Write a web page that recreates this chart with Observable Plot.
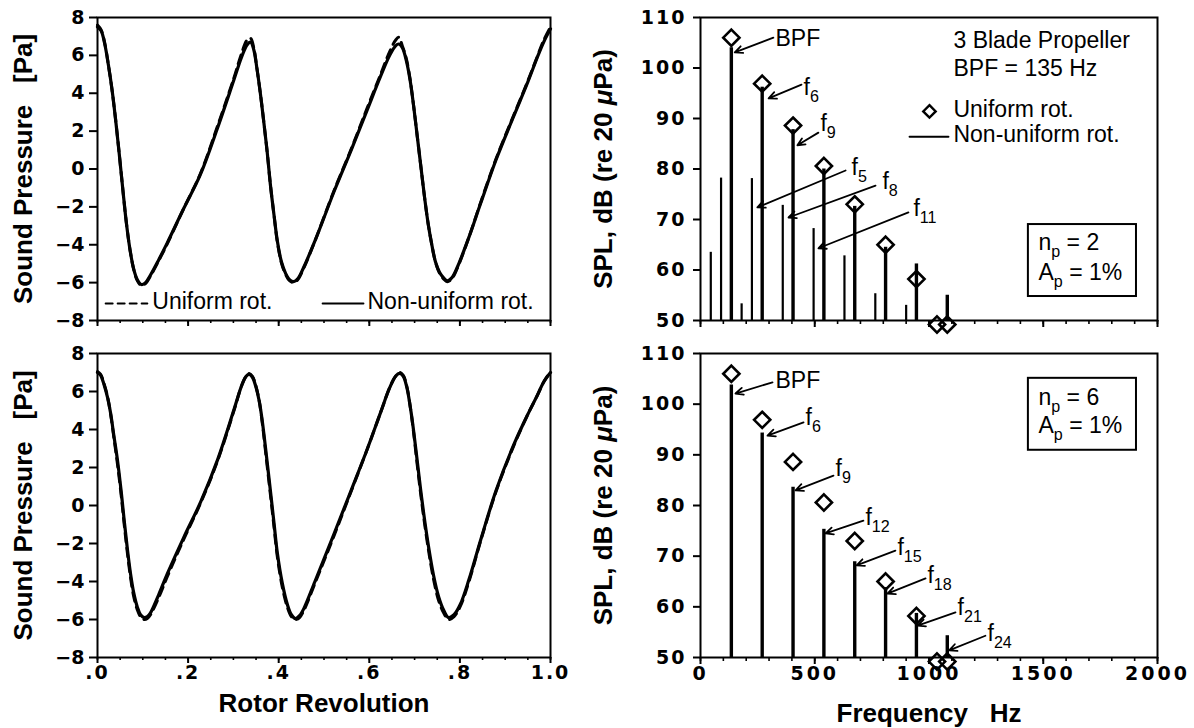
<!DOCTYPE html>
<html><head><meta charset="utf-8">
<script src="https://cdn.jsdelivr.net/npm/d3@7"></script>
<script src="https://cdn.jsdelivr.net/npm/@observablehq/plot@0.6"></script>
<style>
body{margin:0;background:#fff;}
#wrap{position:relative;width:1194px;height:728px;overflow:hidden;background:#fff;}
#wrap svg{position:absolute;overflow:visible;max-width:none;background:transparent;}
#wrap text{white-space:pre;}
#wrap g[aria-label="y-axis tick label"], #wrap g[aria-label="x-axis tick label"]{font-family:"DejaVu Sans",sans-serif;font-weight:bold;font-size:19px;}
#wrap .rotor g[aria-label="x-axis tick label"]{letter-spacing:2px;}
#wrap .freq g[aria-label="x-axis tick label"]{letter-spacing:3px;}
#wrap .spl g[aria-label="y-axis tick label"]{letter-spacing:2px;}
</style></head><body><div id="wrap"></div>
<script>
// ---------- DATA ----------
// Time domain: rotor revolution fraction and sound pressure [Pa]
const revTop = [0, 0.008, 0.016, 0.024, 0.032, 0.040, 0.048, 0.056, 0.064, 0.072, 0.080, 0.088, 0.097, 0.106, 0.117, 0.135, 0.154, 0.19, 0.227, 0.264, 0.301, 0.318, 0.330, 0.338, 0.345, 0.352, 0.36, 0.367, 0.375, 0.382, 0.39, 0.397, 0.406, 0.415, 0.424, 0.433, 0.442, 0.455, 0.48, 0.522, 0.56, 0.595, 0.625, 0.645, 0.658, 0.665, 0.673, 0.682, 0.69, 0.698, 0.706, 0.714, 0.722, 0.73, 0.738, 0.746, 0.755, 0.764, 0.772, 0.782, 0.794, 0.82, 0.846, 0.88, 0.919, 0.95, 0.971, 0.985, 1.0];
const pNonuniformTop = [7.5, 7.3, 6.6, 5.5, 4.2, 2.6, 0.8, -1.1, -2.9, -4.3, -5.3, -5.85, -6.1, -6.0, -5.6, -4.8, -3.9, -2.1, -0.3, 2.1, 4.7, 5.9, 6.55, 6.7, 6.3, 5.3, 3.9, 2.5, 0.8, -0.9, -2.5, -3.8, -4.9, -5.5, -5.85, -5.95, -5.8, -5.2, -3.8, -1.2, 1.0, 3.1, 4.9, 6.0, 6.5, 6.6, 6.4, 5.7, 4.7, 3.3, 1.7, 0.1, -1.5, -2.9, -4.0, -4.9, -5.45, -5.75, -5.9, -5.75, -5.2, -3.6, -1.8, 0.5, 2.8, 4.6, 5.9, 6.7, 7.4];
const pUniformTop = [7.6, 7.35, 6.65, 5.5, 4.2, 2.6, 0.8, -1.1, -2.9, -4.3, -5.3, -5.9, -6.15, -6.05, -5.65, -4.85, -3.95, -2.1, -0.25, 2.2, 4.8, 6.1, 6.8, 6.9, 6.4, 5.3, 3.9, 2.5, 0.8, -0.9, -2.5, -3.85, -4.95, -5.55, -5.9, -6.0, -5.85, -5.25, -3.8, -1.15, 1.05, 3.2, 5.0, 6.2, 6.8, 6.95, 6.5, 5.8, 4.75, 3.3, 1.7, 0.1, -1.5, -2.9, -4.0, -4.9, -5.5, -5.8, -5.95, -5.8, -5.25, -3.6, -1.75, 0.55, 2.85, 4.65, 5.95, 6.8, 7.5];

const revBottom = [0, 0.007, 0.014, 0.022, 0.029, 0.036, 0.044, 0.052, 0.059, 0.066, 0.073, 0.080, 0.088, 0.095, 0.103, 0.110, 0.117, 0.135, 0.154, 0.19, 0.228, 0.265, 0.302, 0.318, 0.328, 0.335, 0.342, 0.349, 0.357, 0.364, 0.373, 0.383, 0.39, 0.397, 0.408, 0.419, 0.428, 0.437, 0.446, 0.456, 0.48, 0.522, 0.56, 0.596, 0.625, 0.645, 0.658, 0.667, 0.675, 0.683, 0.691, 0.698, 0.706, 0.713, 0.72, 0.731, 0.742, 0.753, 0.764, 0.775, 0.787, 0.801, 0.82, 0.846, 0.88, 0.919, 0.95, 0.971, 0.985, 1.0];
const pNonuniformBottom = [7.0, 6.85, 6.4, 5.7, 4.85, 3.7, 2.4, 0.8, -0.8, -2.3, -3.6, -4.6, -5.35, -5.75, -5.9, -5.85, -5.65, -4.7, -3.6, -1.7, 0.2, 2.4, 5.1, 6.3, 6.8, 6.9, 6.75, 6.3, 5.5, 4.4, 2.6, 0.5, -1.0, -2.5, -4.1, -5.2, -5.75, -5.95, -5.8, -5.4, -4.0, -1.5, 0.8, 3.0, 4.9, 6.2, 6.8, 6.95, 6.8, 6.2, 5.1, 3.9, 2.3, 0.9, -0.4, -2.2, -3.7, -4.8, -5.5, -5.9, -5.75, -5.2, -3.9, -1.8, 0.8, 3.2, 4.8, 5.8, 6.5, 7.0];
const pUniformBottom = [7.05, 6.9, 6.45, 5.75, 4.8, 3.6, 2.2, 0.6, -1.0, -2.5, -3.8, -4.8, -5.5, -5.85, -6.0, -5.95, -5.75, -4.85, -3.75, -1.8, 0.15, 2.35, 5.05, 6.3, 6.8, 6.95, 6.8, 6.35, 5.5, 4.3, 2.4, 0.3, -1.2, -2.7, -4.3, -5.35, -5.85, -6.0, -5.9, -5.5, -4.1, -1.6, 0.75, 3.0, 4.9, 6.2, 6.8, 7.0, 6.85, 6.25, 5.1, 3.8, 2.1, 0.7, -0.6, -2.4, -3.9, -5.0, -5.65, -6.0, -5.85, -5.3, -4.0, -1.85, 0.75, 3.15, 4.8, 5.8, 6.5, 7.05];

// Spectra: frequency [Hz] and SPL [dB re 20 µPa]
const uniformHz = [135, 270, 405, 540, 675, 810, 945, 1035, 1080];
const uniformSPL = [106, 96.9, 88.6, 80.6, 73, 65, 58.2, 49.2, 49.2];
const np2Hz = [45, 90, 135, 180, 225, 270, 360, 405, 495, 540, 630, 675, 765, 810, 900, 945, 1080];
const np2SPL = [63.5, 78.2, 104, 53.3, 78.1, 96.2, 72.8, 87.8, 68.2, 80, 62.8, 72.6, 55.3, 64.5, 53, 61.2, 55];
const np6Hz = [135, 270, 405, 540, 675, 810, 945, 1080];
const np6SPL = [103.8, 94.3, 83.6, 75.3, 68.9, 63.8, 58.7, 54.3];

// Tick values and labels
const rotorTicks = [0, 0.2, 0.4, 0.6, 0.8, 1.0];
const rotorTickLabels = [".0", ".2", ".4", ".6", ".8", "1.0"];
const pressureTicks = [-8, -6, -4, -2, 0, 2, 4, 6, 8];
const pressureTickLabels = ["\u22128", "\u22126", "\u22124", "\u22122", "0", "2", "4", "6", "8"];
const freqTicks = [0, 500, 1000, 1500, 2000];
const freqTickLabels = ["0", "500", "1000", "1500", "2000"];
const splTicks = [50, 60, 70, 80, 90, 100, 110];
const splTickLabels = ["50", "60", "70", "80", "90", "100", "110"];

// Annotation labels
const labelsNp2 = ["BPF", "f_{6}", "f_{9}", "f_{5}", "f_{8}", "f_{11}"];
const labelsNp6 = ["BPF", "f_{6}", "f_{9}", "f_{12}", "f_{15}", "f_{18}", "f_{21}", "f_{24}"];

// ---------- LAYOUT (annotation placement in data units) ----------
const annNp2 = {
  textHz: [328, 451, 525, 661, 796, 932], textSPL: [105.8, 96.1, 89.0, 80.3, 77.5, 72.2],
  tailHz: [319, 442, 516, 635, 766, 910], tailSPL: [106.0, 96.7, 87.2, 79.7, 76.7, 71.4],
  headHz: [150, 298, 424, 249, 385, 516], headSPL: [103.1, 94.0, 84.7, 72.4, 70.4, 64.3]
};
const annNp6 = {
  textHz: [328, 460, 591, 722, 862, 993, 1125, 1256], textSPL: [104.7, 97.4, 87.3, 77.6, 71.7, 66.2, 59.9, 54.7],
  tailHz: [315, 451, 582, 713, 853, 985, 1116, 1247], tailSPL: [104.3, 96.4, 85.9, 77.0, 71.1, 65.6, 58.9, 54.3],
  headHz: [153, 293, 416, 547, 683, 818, 950, 1088], headSPL: [102.1, 93.8, 83.0, 74.5, 68.2, 62.6, 56.3, 51.4]
};

// ---------- HELPERS ----------
const svgns = "http://www.w3.org/2000/svg";
function rich(svg) {
  for (const t of svg.querySelectorAll("text")) {
    const s = t.textContent;
    if (!/_\{|\*/.test(s) || t.querySelector("tspan")) continue;
    const re = /_\{([^}]*)\}|\*([^*]*)\*|([^_*]+)/g;
    const parts = []; let m;
    while ((m = re.exec(s))) parts.push(m[1] != null ? {t: m[1], sub: true} : m[2] != null ? {t: m[2], it: true} : {t: m[3]});
    const fs = parseFloat(getComputedStyle(t).fontSize) || 20;
    const shift = Math.round(fs * 0.3);
    t.textContent = "";
    let down = false;
    for (const p of parts) {
      const ts = document.createElementNS(svgns, "tspan");
      ts.textContent = p.t;
      if (p.sub) { ts.setAttribute("font-size", "0.7em"); if (!down) ts.setAttribute("dy", shift); down = true; }
      else if (down) { ts.setAttribute("dy", -shift); down = false; }
      if (p.it) ts.setAttribute("font-style", "italic");
      t.appendChild(ts);
    }
  }
}
const wrap = document.getElementById("wrap");
function place(svg, left, top, classes) {
  svg.style.left = left + "px"; svg.style.top = top + "px";
  classes.forEach(c => svg.classList.add(c));
  wrap.appendChild(svg);
  rich(svg);
}
const baseStyle = {background: "transparent", color: "black", fontFamily: "'Liberation Sans', Arial, sans-serif", fontSize: "23px", overflow: "visible"};
const annFont = {fontFamily: "'Liberation Sans', Arial, sans-serif", fontSize: 23, fontWeight: "normal"};
const titleFont = {fontFamily: "'Liberation Sans', Arial, sans-serif", fontSize: 26, fontWeight: "bold", textAnchor: "middle", lineAnchor: "middle"};
const rows = (xs, ys) => xs.map((x, i) => ({x, y: ys[i]}));
const rotorMinor = d3.range(0, 1.0001, 0.05);
const freqMinor = d3.range(0, 2001, 100);

// ---------- TIME-DOMAIN PANELS ----------
function wavePanel({uni, non, top, height, mt, mb, showX, legend}) {
  const marks = [
    Plot.frame({strokeWidth: 2}),
    Plot.axisY({ticks: pressureTicks, tickSize: 8, tickPadding: 5, strokeWidth: 2, label: null,
      tickFormat: d => pressureTickLabels[pressureTicks.indexOf(d)]}),
    Plot.axisX({ticks: rotorMinor, tickSize: 3, strokeWidth: 1.6, label: null, tickFormat: () => ""}),
    Plot.axisX({ticks: rotorTicks, tickSize: 6, tickPadding: 2, strokeWidth: 2, label: null,
      tickFormat: d => showX ? rotorTickLabels[rotorTicks.indexOf(d)] : ""}),
    Plot.line(uni, {x: "x", y: "y", curve: "catmull-rom", stroke: "black", strokeWidth: 3, strokeDasharray: "9,6"}),
    Plot.line(non, {x: "x", y: "y", curve: "catmull-rom", stroke: "black", strokeWidth: 3.2}),
    Plot.text(["Sound Pressure   [Pa]"], {text: d => d, frameAnchor: "left", dx: -74, rotate: -90, ...titleFont})
  ];
  if (legend) {
    marks.push(
      Plot.line([{x: 0.018, y: -7.1}, {x: 0.110, y: -7.1}], {x: "x", y: "y", stroke: "black", strokeWidth: 2, strokeDasharray: "7,5"}),
      Plot.line([{x: 0.497, y: -7.1}, {x: 0.587, y: -7.1}], {x: "x", y: "y", stroke: "black", strokeWidth: 2}),
      Plot.text([{x: 0.121, y: -7.0, t: "Uniform rot."}, {x: 0.596, y: -7.0, t: "Non-uniform rot."}],
        {x: "x", y: "y", text: "t", textAnchor: "start", ...annFont})
    );
  }
  if (showX) marks.push(Plot.text(["Rotor Revolution"], {text: d => d, frameAnchor: "bottom", dy: 46, ...titleFont}));
  const svg = Plot.plot({
    width: 560, height, marginLeft: 97, marginRight: 10, marginTop: mt, marginBottom: mb,
    x: {domain: [0, 1], label: null}, y: {domain: [-8, 8], label: null},
    style: baseStyle, marks
  });
  place(svg, 0, top, ["rotor"]);
}

wavePanel({uni: rows(revTop, pUniformTop), non: rows(revTop, pNonuniformTop), top: 0, height: 340, mt: 17, mb: 20, showX: false, legend: true});
wavePanel({uni: rows(revBottom, pUniformBottom), non: rows(revBottom, pNonuniformBottom), top: 340, height: 388, mt: 13, mb: 71, showX: true, legend: false});

// ---------- SPECTRUM PANELS ----------
function specPanel({lineHz, lineSPL, labels, ann, top, height, mt, mb, showX, legendTop, np}) {
  const lines = rows(lineHz, lineSPL).map(d => ({...d, main: d.x % 135 === 0}));
  const ar = labels.map((l, i) => ({l, tx: ann.textHz[i], ty: ann.textSPL[i], x1: ann.tailHz[i], y1: ann.tailSPL[i], x2: ann.headHz[i], y2: ann.headSPL[i]}));
  const boxTop = legendTop ? 69.0 : 105.1, boxBot = legendTop ? 54.75 : 90.9;
  const boxL1 = legendTop ? 65.5 : 101.3, boxL2 = legendTop ? 59.5 : 95.8;
  const marks = [
    Plot.frame({strokeWidth: 2}),
    Plot.axisY({ticks: splTicks, tickSize: 7, tickPadding: 7, strokeWidth: 2, label: null,
      tickFormat: d => splTickLabels[splTicks.indexOf(d)]}),
    Plot.axisX({ticks: freqMinor, tickSize: 4, strokeWidth: 1.6, label: null, tickFormat: () => ""}),
    Plot.axisX({ticks: freqTicks, tickSize: 7, tickPadding: 2, strokeWidth: 2, label: null,
      tickFormat: d => showX ? freqTickLabels[freqTicks.indexOf(d)] : ""}),
    Plot.ruleX(lines.filter(d => d.main), {x: "x", y1: 50, y2: "y", stroke: "black", strokeWidth: 3.4}),
    Plot.ruleX(lines.filter(d => !d.main), {x: "x", y1: 50, y2: "y", stroke: "black", strokeWidth: 2.2}),
    Plot.dot(rows(uniformHz, uniformSPL), {x: "x", y: "y", symbol: "diamond2", r: 7.3, stroke: "black", strokeWidth: 2.6, fill: "none"}),
    Plot.arrow(ar, {x1: "x1", y1: "y1", x2: "x2", y2: "y2", stroke: "black", strokeWidth: 1.8, headLength: 7, headAngle: 50}),
    Plot.text(ar, {x: "tx", y: "ty", text: "l", textAnchor: "start", ...annFont}),
    Plot.rect([{x1: 1435, x2: 1908, y1: boxBot, y2: boxTop}], {x1: "x1", x2: "x2", y1: "y1", y2: "y2", fill: "white", stroke: "black", strokeWidth: 2}),
    Plot.text([{x: 1479, y: boxL1, t: "n_{p} = " + np}, {x: 1479, y: boxL2, t: "A_{p} = 1%"}], {x: "x", y: "y", text: "t", textAnchor: "start", ...annFont}),
    Plot.text(["SPL, dB (re 20 *\u03bc*Pa)"], {text: d => d, frameAnchor: "left", dx: -97, rotate: -90, ...titleFont})
  ];
  if (legendTop) {
    marks.push(
      Plot.dot([{x: 1002, y: 91.4}], {x: "x", y: "y", symbol: "diamond2", r: 5.6, stroke: "black", strokeWidth: 2.4, fill: "none"}),
      Plot.line([{x: 915, y: 86.4}, {x: 1085, y: 86.4}], {x: "x", y: "y", stroke: "black", strokeWidth: 2}),
      Plot.text([
        {x: 1107, y: 105.4, t: "3 Blade Propeller"},
        {x: 1107, y: 99.9, t: "BPF = 135 Hz"},
        {x: 1107, y: 91.8, t: "Uniform rot."},
        {x: 1107, y: 86.9, t: "Non-uniform rot."}
      ], {x: "x", y: "y", text: "t", textAnchor: "start", ...annFont})
    );
  }
  if (showX) marks.push(Plot.text(["Frequency   Hz"], {text: d => d, frameAnchor: "bottom", dy: 56, ...titleFont}));
  const svg = Plot.plot({
    width: 634, height, marginLeft: 140, marginRight: 37, marginTop: mt, marginBottom: mb,
    x: {domain: [0, 2000], label: null}, y: {domain: [50, 110], label: null},
    style: baseStyle, marks
  });
  place(svg, 560, top, ["freq", "spl"]);
}

specPanel({lineHz: np2Hz, lineSPL: np2SPL, labels: labelsNp2, ann: annNp2, top: 0, height: 340, mt: 17, mb: 20, showX: false, legendTop: true, np: 2});
specPanel({lineHz: np6Hz, lineSPL: np6SPL, labels: labelsNp6, ann: annNp6, top: 340, height: 388, mt: 13, mb: 71, showX: true, legendTop: false, np: 6});
</script>
</body></html>
